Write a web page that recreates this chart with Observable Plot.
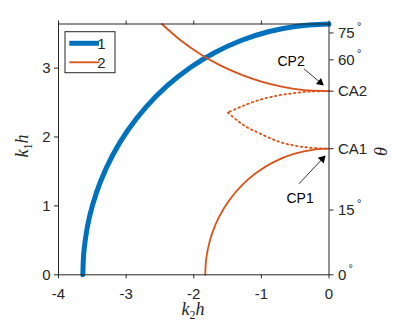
<!DOCTYPE html>
<html><head><meta charset="utf-8">
<script src="https://cdn.jsdelivr.net/npm/d3@7"></script>
<script src="https://cdn.jsdelivr.net/npm/@observablehq/plot@0.6"></script>
<style>
body{margin:0;background:#fff;}
#wrap{position:relative;width:395px;height:326px;}
</style></head><body><div id="wrap"></div>
<script>
// Curve 1 (blue, thick)
const blueX = [-3.64,-3.63,-3.62,-3.57,-3.5,-3.38,-3.2,-2.98,-2.7,-2.4,-2.05,-1.7,-1.3,-0.9,-0.5,0];
const blueY = [0,0.27,0.38,0.71,1.0,1.35,1.735,2.09,2.44,2.737,3.008,3.219,3.40,3.527,3.605,3.64];
// Curve 2 (orange) lower solid branch
const orLowX = [-1.83,-1.82,-1.79,-1.73,-1.62,-1.48,-1.3,-1.08,-0.82,-0.52,-0.2,0];
const orLowY = [0,0.19,0.38,0.597,0.851,1.076,1.288,1.477,1.636,1.755,1.819,1.83];
// Curve 2 upper solid branch
const orUpX = [-2.47,-2.2,-1.9,-1.6,-1.3,-1.0,-0.7,-0.4,0];
const orUpY = [3.64,3.408,3.202,3.036,2.905,2.804,2.731,2.685,2.665];
// Curve 2 dotted branches (upper and lower, meeting at a cusp)
const dotUpX = [0,-0.27,-0.52,-0.765,-1.01,-1.26,-1.495];
const dotUpY = [2.665,2.66,2.636,2.60,2.544,2.457,2.356];
const dotLoX = [-1.495,-1.357,-1.21,-1.01,-0.765,-0.52,-0.27,0];
const dotLoY = [2.356,2.24,2.14,2.046,1.94,1.877,1.843,1.83];
// Axes
const xTicks = [-4,-3,-2,-1,0];
const yTicks = [0,1,2,3];
const rightTickVals = [0,0.94,1.83,2.665,3.12,3.51];
const rightTickLabels = ["0","15","CA1","CA2","60","75"];
const degreeLabels = ["0","15","60","75"];
// Annotations
const annText = [{x:-0.561,y:3.096,t:"CP2"},{x:-0.428,y:1.107,t:"CP1"}];
const annLines = [{x1:-0.371,y1:2.99,x2:-0.129,y2:2.791},{x1:-0.445,y1:1.32,x2:-0.098,y2:1.682}];
const annHeads = [{x:-0.129,y:2.791,rot:129.9},{x:-0.098,y:1.682,rot:43.3}];

const toPts = (xs, ys, s) => xs.map((x,i)=>({x, y:ys[i], s}));
const blue = toPts(blueX, blueY, "1");
const orange = [...toPts(orLowX, orLowY, "a"), ...toPts(orUpX, orUpY, "b")];
const dotted = [...toPts(dotUpX, dotUpY, "u"), ...toPts(dotLoX, dotLoY, "l")];
const rightLabels = rightTickVals.map((v,i)=>({v, t:rightTickLabels[i]}));
const deg1 = rightLabels.filter(d=>degreeLabels.includes(d.t) && d.t.length===1);
const deg2 = rightLabels.filter(d=>degreeLabels.includes(d.t) && d.t.length===2);

const BLUE = "#0072BD", ORANGE = "#D95319", AX = "#262626";
const FONT = "'Liberation Sans', Arial, Helvetica, sans-serif";

const chart = Plot.plot({
  width: 395, height: 326,
  marginLeft: 58, marginRight: 66.5, marginTop: 23.5, marginBottom: 51.7,
  style: {fontFamily: FONT, fontSize: "15px", color: AX, background: "#fff"},
  x: {domain: [-4, 0], label: null},
  y: {domain: [0, 3.64], label: null},
  marks: [
    Plot.line(blue, {x:"x", y:"y", z:"s", stroke: BLUE, strokeWidth: 5, curve: "catmull-rom"}),
    Plot.line(orange, {x:"x", y:"y", z:"s", stroke: ORANGE, strokeWidth: 1.8, curve: "catmull-rom"}),
    Plot.line(dotted, {x:"x", y:"y", z:"s", stroke: ORANGE, strokeWidth: 1.8, strokeDasharray: "1.6 3.2", curve: "catmull-rom"}),
    Plot.frame({stroke: AX, strokeWidth: 1}),
    Plot.axisX({ticks: xTicks, tickFormat: d => String(d), tickSize: 4, tickPadding: 9.5, label: null, stroke: AX}),
    Plot.axisX({anchor: "top", ticks: xTicks, tickFormat: () => "", tickSize: 4, label: null}),
    Plot.axisY({ticks: yTicks, tickFormat: d => String(d), tickSize: 4, tickPadding: 4, label: null}),
    Plot.axisY({anchor: "right", ticks: rightTickVals, tickFormat: () => "", tickSize: 4, label: null}),
    Plot.text(rightLabels, {y: "v", text: "t", frameAnchor: "right", dx: 9, textAnchor: "start", fontSize: 15, fill: AX}),
    Plot.text(deg1, {y: "v", text: () => "°", frameAnchor: "right", dx: 19.5, dy: -6.5, textAnchor: "start", fontSize: 11, fill: AX}),
    Plot.text(deg2, {y: "v", text: () => "°", frameAnchor: "right", dx: 28, dy: -6.5, textAnchor: "start", fontSize: 11, fill: AX}),
    Plot.link(annLines, {x1:"x1", y1:"y1", x2:"x2", y2:"y2", stroke: "#000", strokeWidth: 0.8}),
    Plot.dot(annHeads, {x:"x", y:"y", rotate:"rot", symbol: "triangle", r: 3, fill: "#000", stroke: "none"}),
    Plot.text(annText, {x:"x", y:"y", text:"t", fontSize: 14, fill: "#000"})
  ]
});

const svg = d3.select(chart);
// legend
const lg = svg.append("g");
lg.append("rect").attr("x", 65).attr("y", 31.7).attr("width", 50).attr("height", 41)
  .attr("fill", "#fff").attr("stroke", AX).attr("stroke-width", 1);
lg.append("line").attr("x1", 69.3).attr("x2", 99).attr("y1", 43.3).attr("y2", 43.3)
  .attr("stroke", BLUE).attr("stroke-width", 5);
lg.append("line").attr("x1", 69.3).attr("x2", 99).attr("y1", 62.3).attr("y2", 62.3)
  .attr("stroke", ORANGE).attr("stroke-width", 1.8);
[["1", 43.3], ["2", 62.3]].forEach(([t, y]) => {
  lg.append("text").attr("x", 101.5).attr("y", y).attr("dy", "0.36em")
    .attr("font-family", FONT).attr("font-size", 15).attr("fill", AX).text(t);
});
// axis labels
function mathLabel(g, base, sub, tail) {
  const t = g.append("text").attr("font-family", "'Liberation Serif', 'DejaVu Serif', serif")
    .attr("font-size", 18).attr("fill", AX);
  t.append("tspan").attr("font-style", "italic").text(base);
  if (sub) t.append("tspan").attr("font-size", 12).attr("dy", 4).text(sub);
  if (tail) t.append("tspan").attr("font-style", "italic").attr("dy", sub ? -4 : 0).text(tail);
  return t;
}
mathLabel(svg.append("g").attr("transform", "translate(193,315)"), "k", "2", "h").attr("text-anchor", "middle");
mathLabel(svg.append("g").attr("transform", "translate(27.5,146) rotate(-90)"), "k", "1", "h").attr("text-anchor", "middle");
mathLabel(svg.append("g").attr("transform", "translate(387,151.5) rotate(-90)"), "θ", null, null).attr("text-anchor", "middle");

document.getElementById("wrap").appendChild(chart);
</script>
</body></html>
